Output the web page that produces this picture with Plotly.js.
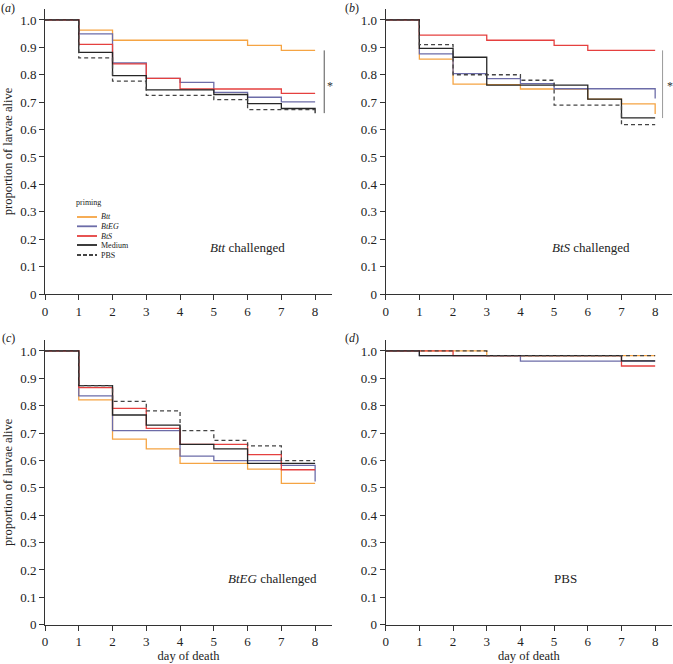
<!DOCTYPE html>
<html>
<head>
<meta charset="utf-8">
<script src="https://cdn.plot.ly/plotly-3.0.1.min.js"></script>
<style>
  html, body { margin: 0; padding: 0; background: #fff; }
  #chart { width: 673px; height: 664px; }
</style>
</head>
<body>
<div id="chart"></div>
<script>
// Data: survival level from each day onwards (last value = level after drop at day 8)
const days = [0, 1, 2, 3, 4, 5, 6, 7, 8];
const yTicks = [0, 0.1, 0.2, 0.3, 0.4, 0.5, 0.6, 0.7, 0.8, 0.9, 1.0];
const yTickText = ['0', '0.1', '0.2', '0.3', '0.4', '0.5', '0.6', '0.7', '0.8', '0.9', '1.0'];

const groups = ['Btt', 'BtEG', 'BtS', 'Medium', 'PBS'];
const groupLabels = ['<i>Btt</i>', '<i>BtEG</i>', '<i>BtS</i>', 'Medium', 'PBS'];

// (a) Btt challenged
const aBtt    = [1, 0.963, 0.926, 0.926, 0.926, 0.926, 0.907, 0.889, 0.889];
const aBtEG   = [1, 0.949, 0.843, 0.787, 0.772, 0.736, 0.718, 0.701, 0.701];
const aBtS    = [1, 0.911, 0.840, 0.787, 0.748, 0.748, 0.748, 0.732, 0.732];
const aMedium = [1, 0.882, 0.797, 0.745, 0.745, 0.728, 0.695, 0.677, 0.660];
const aPBS    = [1, 0.862, 0.777, 0.725, 0.725, 0.709, 0.673, 0.673, 0.673];

// (b) BtS challenged
const bBtt    = [1, 0.857, 0.766, 0.764, 0.748, 0.748, 0.711, 0.694, 0.657];
const bBtEG   = [1, 0.876, 0.804, 0.786, 0.768, 0.749, 0.749, 0.749, 0.713];
const bBtS    = [1, 0.945, 0.945, 0.926, 0.926, 0.907, 0.889, 0.889, 0.889];
const bMedium = [1, 0.896, 0.864, 0.762, 0.762, 0.762, 0.711, 0.643, 0.643];
const bPBS    = [1, 0.910, 0.800, 0.800, 0.780, 0.689, 0.689, 0.618, 0.618];

// (c) BtEG challenged
const cBtt    = [1, 0.821, 0.678, 0.642, 0.589, 0.589, 0.568, 0.516, 0.516];
const cBtEG   = [1, 0.836, 0.709, 0.709, 0.616, 0.599, 0.599, 0.582, 0.523];
const cBtS    = [1, 0.866, 0.790, 0.717, 0.659, 0.659, 0.621, 0.566, 0.566];
const cMedium = [1, 0.873, 0.766, 0.729, 0.659, 0.642, 0.589, 0.589, 0.589];
const cPBS    = [1, 0.873, 0.816, 0.781, 0.709, 0.673, 0.653, 0.599, 0.599];

// (d) PBS
const dBtt    = [1, 1, 1, 0.983, 0.983, 0.983, 0.983, 0.983, 0.983];
const dBtEG   = [1, 0.983, 0.983, 0.983, 0.963, 0.963, 0.963, 0.963, 0.963];
const dBtS    = [1, 1, 0.983, 0.983, 0.983, 0.983, 0.983, 0.945, 0.945];
const dMedium = [1, 0.983, 0.983, 0.983, 0.983, 0.983, 0.983, 0.964, 0.964];
const dPBS    = [1, 1, 1, 0.983, 0.983, 0.983, 0.983, 0.983, 0.983];

// Styles
const FONT = '"Liberation Serif", "DejaVu Serif", serif';
const groupColors = ['#F5A443', '#6C6CA8', '#E5403F', '#262626', '#444444'];
const groupDash = ['solid', 'solid', 'solid', 'solid', '4px,3px'];

const panels = [
    {xa: 'x',  ya: 'y',  series: [aBtt, aBtEG, aBtS, aMedium, aPBS]},
    {xa: 'x2', ya: 'y2', series: [bBtt, bBtEG, bBtS, bMedium, bPBS]},
    {xa: 'x3', ya: 'y3', series: [cBtt, cBtEG, cBtS, cMedium, cPBS]},
    {xa: 'x4', ya: 'y4', series: [dBtt, dBtEG, dBtS, dMedium, dPBS]}
];

let data = [];
panels.forEach(p => {
    p.series.forEach((vals, i) => {
        data.push({
            x: days,
            y: vals,
            name: groups[i],
            type: 'scatter',
            mode: 'lines',
            line: {shape: 'hv', color: groupColors[i], width: 1.3, dash: groupDash[i]},
            xaxis: p.xa,
            yaxis: p.ya,
            showlegend: false,
            hoverinfo: 'skip'
        });
    });
});

// pixel -> paper helpers
const W = 673, H = 664;
const px = v => v / W;
const py = v => (H - v) / H;

function xAxis(domain, anchor, title) {
    return {
        domain: domain,
        anchor: anchor,
        range: [0, 8.5],
        tickvals: days,
        ticktext: days.map(String),
        showline: true, linecolor: '#333', linewidth: 1,
        ticks: 'outside', ticklen: 5, tickcolor: '#333',
        showgrid: false, zeroline: false,
        tickfont: {family: FONT, size: 13, color: '#222'},
        title: title ? {text: title, font: {family: FONT, size: 12.5, color: '#222'}, standoff: 2} : {text: ''},
        automargin: false,
        fixedrange: true
    };
}

function yAxis(domain, anchor, title) {
    return {
        domain: domain,
        anchor: anchor,
        range: [0, 1.04],
        tickvals: yTicks,
        ticktext: yTickText,
        showline: true, linecolor: '#333', linewidth: 1,
        ticks: 'outside', ticklen: 5, tickcolor: '#333',
        showgrid: false, zeroline: false,
        tickfont: {family: FONT, size: 13, color: '#222'},
        title: title ? {text: title, font: {family: FONT, size: 12.5, color: '#222'}, standoff: 4} : {text: ''},
        automargin: false,
        fixedrange: true
    };
}

const xTop = [px(45), px(332)];
const xRight = [px(385.7), px(672)];
const yTop = [py(294), py(9)];
const yBottom = [py(624.7), py(340)];

// custom legend (compact, as in the original)
let shapes = [];
let annotations = [];
const legendRows = [217, 226.3, 236, 245, 255];
groups.forEach((g, i) => {
    shapes.push({
        type: 'line', xref: 'paper', yref: 'paper',
        x0: px(77), x1: px(97), y0: py(legendRows[i]), y1: py(legendRows[i]),
        line: {color: groupColors[i], width: 1.8, dash: i === 4 ? '4px,2px' : 'solid'}
    });
    annotations.push({
        xref: 'paper', yref: 'paper', x: px(99), y: py(legendRows[i]),
        xanchor: 'left', yanchor: 'middle', showarrow: false,
        text: groupLabels[i], font: {family: FONT, size: 8, color: '#222'}
    });
});
annotations.push({
    xref: 'paper', yref: 'paper', x: px(88), y: py(202),
    xanchor: 'center', yanchor: 'middle', showarrow: false,
    text: 'priming', font: {family: FONT, size: 8, color: '#222'}
});

// significance brackets
shapes.push({type: 'line', xref: 'x', yref: 'y', x0: 8.27, x1: 8.27, y0: 0.66, y1: 0.889,
    line: {color: '#555', width: 1}});
shapes.push({type: 'line', xref: 'x2', yref: 'y2', x0: 8.22, x1: 8.22, y0: 0.642, y1: 0.889,
    line: {color: '#999', width: 1}});
annotations.push({xref: 'x', yref: 'y', x: 8.45, y: 0.76, text: '*', showarrow: false,
    font: {family: FONT, size: 12, color: '#333'}});
annotations.push({xref: 'x2', yref: 'y2', x: 8.44, y: 0.76, text: '*', showarrow: false,
    font: {family: FONT, size: 12, color: '#333'}});

// panel captions
const captions = [
    {xr: 'x', yr: 'y', x: 6.0, text: '<i>Btt</i> challenged'},
    {xr: 'x2', yr: 'y2', x: 6.1, text: '<i>BtS</i> challenged'},
    {xr: 'x3', yr: 'y3', x: 6.75, text: '<i>BtEG</i> challenged'},
    {xr: 'x4', yr: 'y4', x: 5.35, text: 'PBS'}
];
captions.forEach(c => {
    annotations.push({xref: c.xr, yref: c.yr, x: c.x, y: 0.168, text: c.text, showarrow: false,
        xanchor: 'center', yanchor: 'middle', font: {family: FONT, size: 13, color: '#222'}});
});

// panel letters
const letters = [['a', 8, 8], ['b', 352, 8], ['c', 8, 338], ['d', 352, 338]];
letters.forEach(l => {
    annotations.push({xref: 'paper', yref: 'paper', x: px(l[1]), y: py(l[2]),
        xanchor: 'center', yanchor: 'middle', showarrow: false,
        text: '(<i>' + l[0] + '</i>)', font: {family: FONT, size: 12, color: '#222'}});
});

let layout = {
    width: W,
    height: H,
    margin: {l: 0, r: 0, t: 0, b: 0},
    paper_bgcolor: '#fff',
    plot_bgcolor: '#fff',
    showlegend: false,
    font: {family: FONT, color: '#222'},
    xaxis: xAxis(xTop, 'y'),
    yaxis: yAxis(yTop, 'x', 'proportion of larvae alive'),
    xaxis2: xAxis(xRight, 'y2'),
    yaxis2: yAxis(yTop, 'x2'),
    xaxis3: xAxis(xTop, 'y3', 'day of death'),
    yaxis3: yAxis(yBottom, 'x3', 'proportion of larvae alive'),
    xaxis4: xAxis(xRight, 'y4', 'day of death'),
    yaxis4: yAxis(yBottom, 'x4'),
    shapes: shapes,
    annotations: annotations
};

let config = {staticPlot: true, displayModeBar: false};

Plotly.newPlot('chart', data, layout, config);
</script>
</body>
</html>
